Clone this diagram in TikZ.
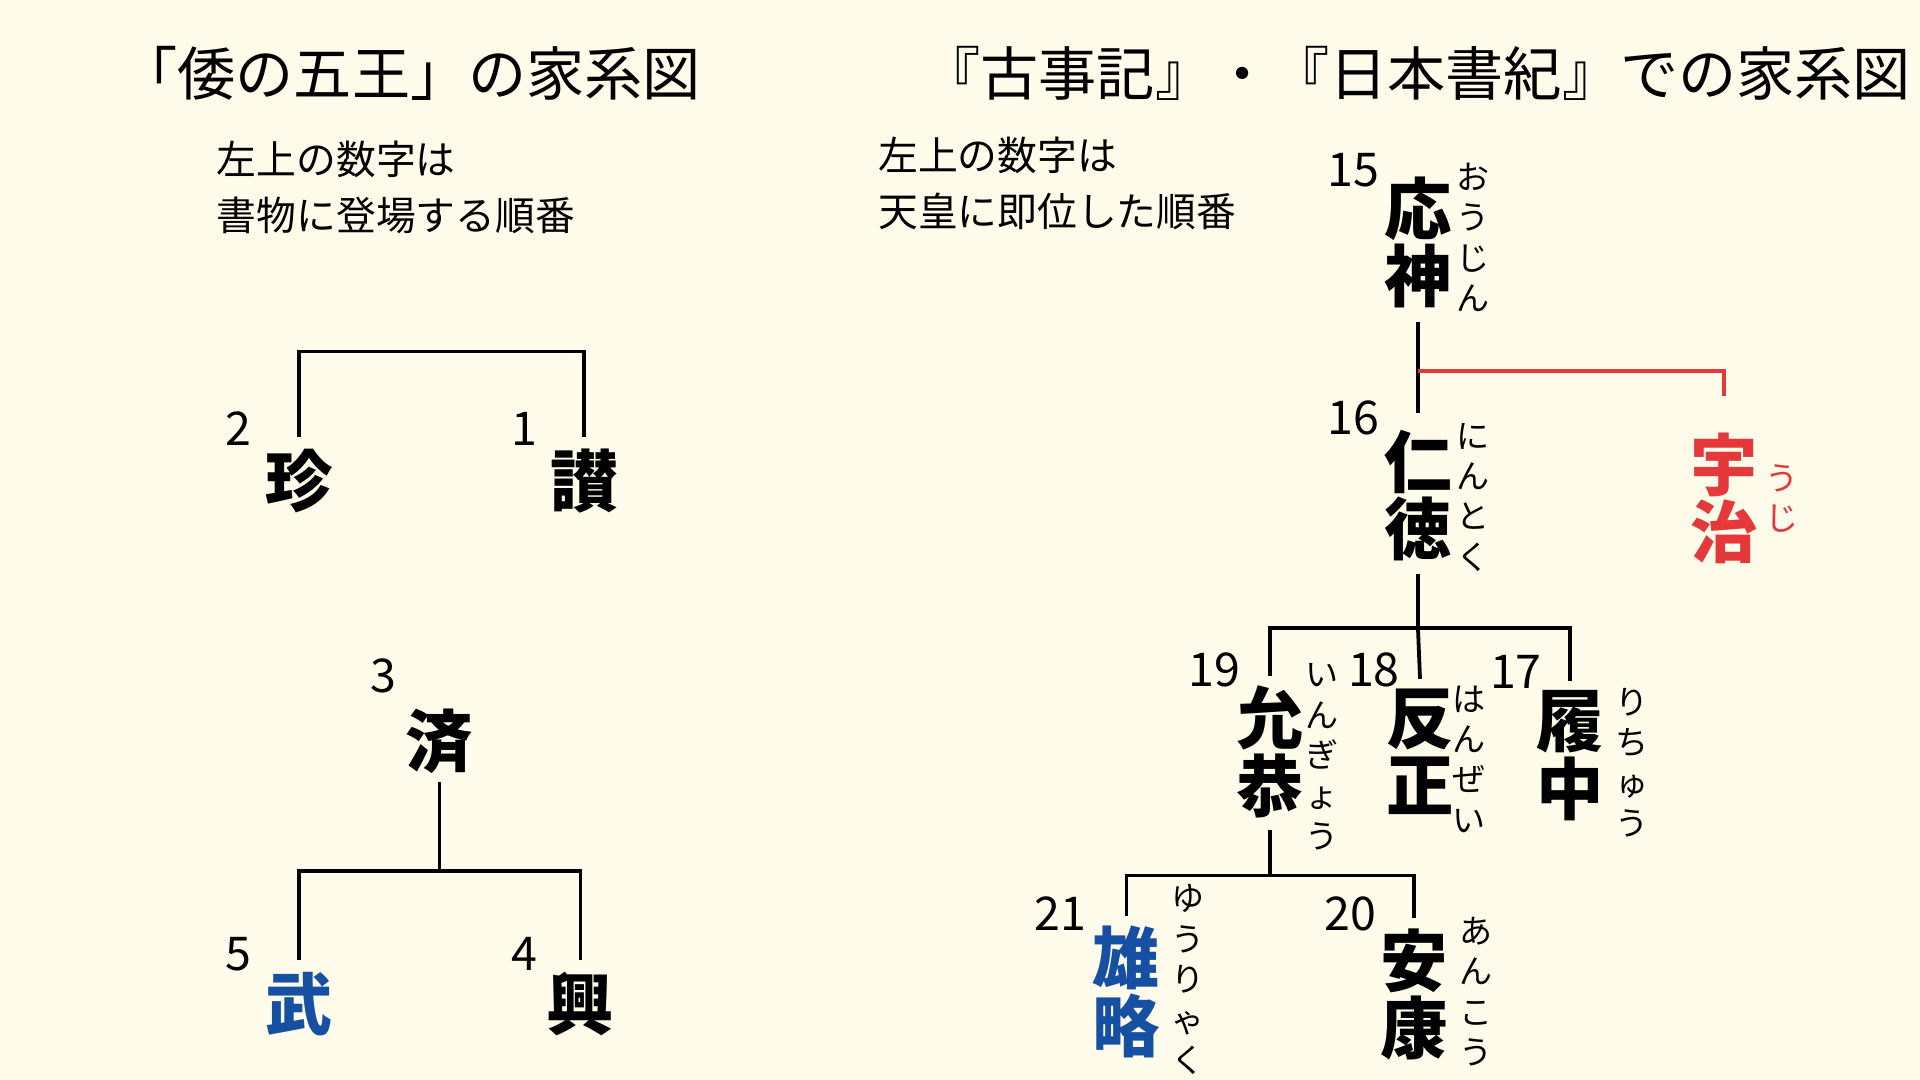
\documentclass[tikz,border=0pt]{standalone}
\usepackage{fontspec}
\usepackage{tikz}
\newfontfamily\jp{Noto Sans CJK JP}
\definecolor{cream}{HTML}{FEFBEB}
\definecolor{ujired}{HTML}{E5383B}
\definecolor{yublue}{HTML}{1550A2}

\begin{document}
\begin{tikzpicture}[x=1pt,y=-1pt]

	\tikzset{title/.style = {font=\jp\fontsize{47.5}{50}\selectfont}}
	\tikzset{note/.style = {font=\jp\fontsize{32.5}{46}\selectfont,align=left,anchor=west,inner sep=0}}
	\tikzset{king/.style = {font=\jp\bfseries\fontsize{55}{55}\selectfont,align=center,inner sep=0}}
	\tikzset{yomi/.style = {font=\jp\fontsize{27}{33}\selectfont,align=center,inner sep=0}}
	\tikzset{num/.style = {font=\jp\fontsize{38}{40}\selectfont,inner sep=0}}
	\tikzset{line/.style = {line width=3.1pt}}

	\fill[cream] (0,0) rectangle (1568,882);
	\useasboundingbox (0,0) rectangle (1568,882);

	% left
	\node[title] (t1) at (335,60) {「倭の五王」の家系図};
	\node[note] (n1) at (177,153) {左上の数字は\\書物に登場する順番};

	\node[king] (chin) at (244,393) {珍};
	\node[num] (c2) at (195,350) {2};
	\node[king] (san) at (477,393) {讃};
	\node[num] (c1) at (428,350) {1};
	\node[king] (sei) at (359,605) {済};
	\node[num] (c3) at (313,552) {3};
	\node[king,text=yublue] (bu) at (244,820) {武};
	\node[num] (c5) at (195,779) {5};
	\node[king] (ko) at (474,820) {興};
	\node[num] (c4) at (428,779) {4};

	\coordinate (a1) at (360,287);
	\coordinate (a2) at (359,711);

	\draw[line,shorten <=10pt,shorten >=10pt] (chin.north) |- (a1) -| (san.north);
	\draw[line,shorten <=7pt] (sei.south) to (a2);
	\draw[line,shorten <=10pt,shorten >=10pt] (bu.north) |- (a2) -| (ko.north);

	% right
	\node[title] (t2) at (1157,60) {『古事記』・『日本書紀』での家系図};
	\node[note] (n2) at (717,150) {左上の数字は\\天皇に即位した順番};

	\node[king] (ojin) at (1158,198) {応\\神};
	\node[num] (c15) at (1105,139) {15};
	\node[yomi] (y15) at (1203,194) {お\\う\\じ\\ん};
	\node[king] (nintoku) at (1158,405) {仁\\徳};
	\node[num] (c16) at (1105,341) {16};
	\node[yomi] (y16) at (1203,406) {に\\ん\\と\\く};
	\node[king,text=ujired] (uji) at (1408,407) {宇\\治};
	\node[yomi,text=ujired] (yuji) at (1455,407) {う\\じ};
	\node[king] (ingyo) at (1037,614) {允\\恭};
	\node[num] (c19) at (992,547) {19};
	\node[yomi] (y19) at (1080,618) {い\\ん\\ぎ\\ょ\\う};
	\node[king] (hanzei) at (1160,614) {反\\正};
	\node[num] (c18) at (1122,547) {18};
	\node[yomi] (y18) at (1200,620) {は\\ん\\ぜ\\い};
	\node[king] (richu) at (1282,617) {履\\中};
	\node[num] (c17) at (1238,549) {17};
	\node[yomi] (y17) at (1333,623) {り\\ち\\ゅ\\う};
	\node[king,text=yublue] (yuryaku) at (920,810) {雄\\略};
	\node[num] (c21) at (866,746) {21};
	\node[yomi] (y21) at (970,800) {ゆ\\う\\り\\ゃ\\く};
	\node[king] (anko) at (1155,812) {安\\康};
	\node[num] (c20) at (1103,746) {20};
	\node[yomi] (y20) at (1205,810) {あ\\ん\\こ\\う};

	\coordinate (b1) at (1158,303);
	\coordinate (b2) at (1158,513);
	\coordinate (b3) at (1037,715);

	\draw[line,shorten <=11pt,shorten >=14pt] (ojin.south) to (nintoku.north);
	\draw[line,ujired] (b1) -| ([yshift=30pt]uji.north);
	\draw[line,shorten <=10pt] (nintoku.south) to (b2);
	\draw[line,shorten <=8pt,shorten >=8pt] (ingyo.north) |- (b2) -| (richu.north);
	\draw[line,shorten >=8pt] (b2) to (hanzei.north);
	\draw[line,shorten <=10pt] (ingyo.south) to (b3);
	\draw[line,shorten <=8pt,shorten >=8pt] (yuryaku.north) |- (b3) -| (anko.north);
\end{tikzpicture}
\end{document}
